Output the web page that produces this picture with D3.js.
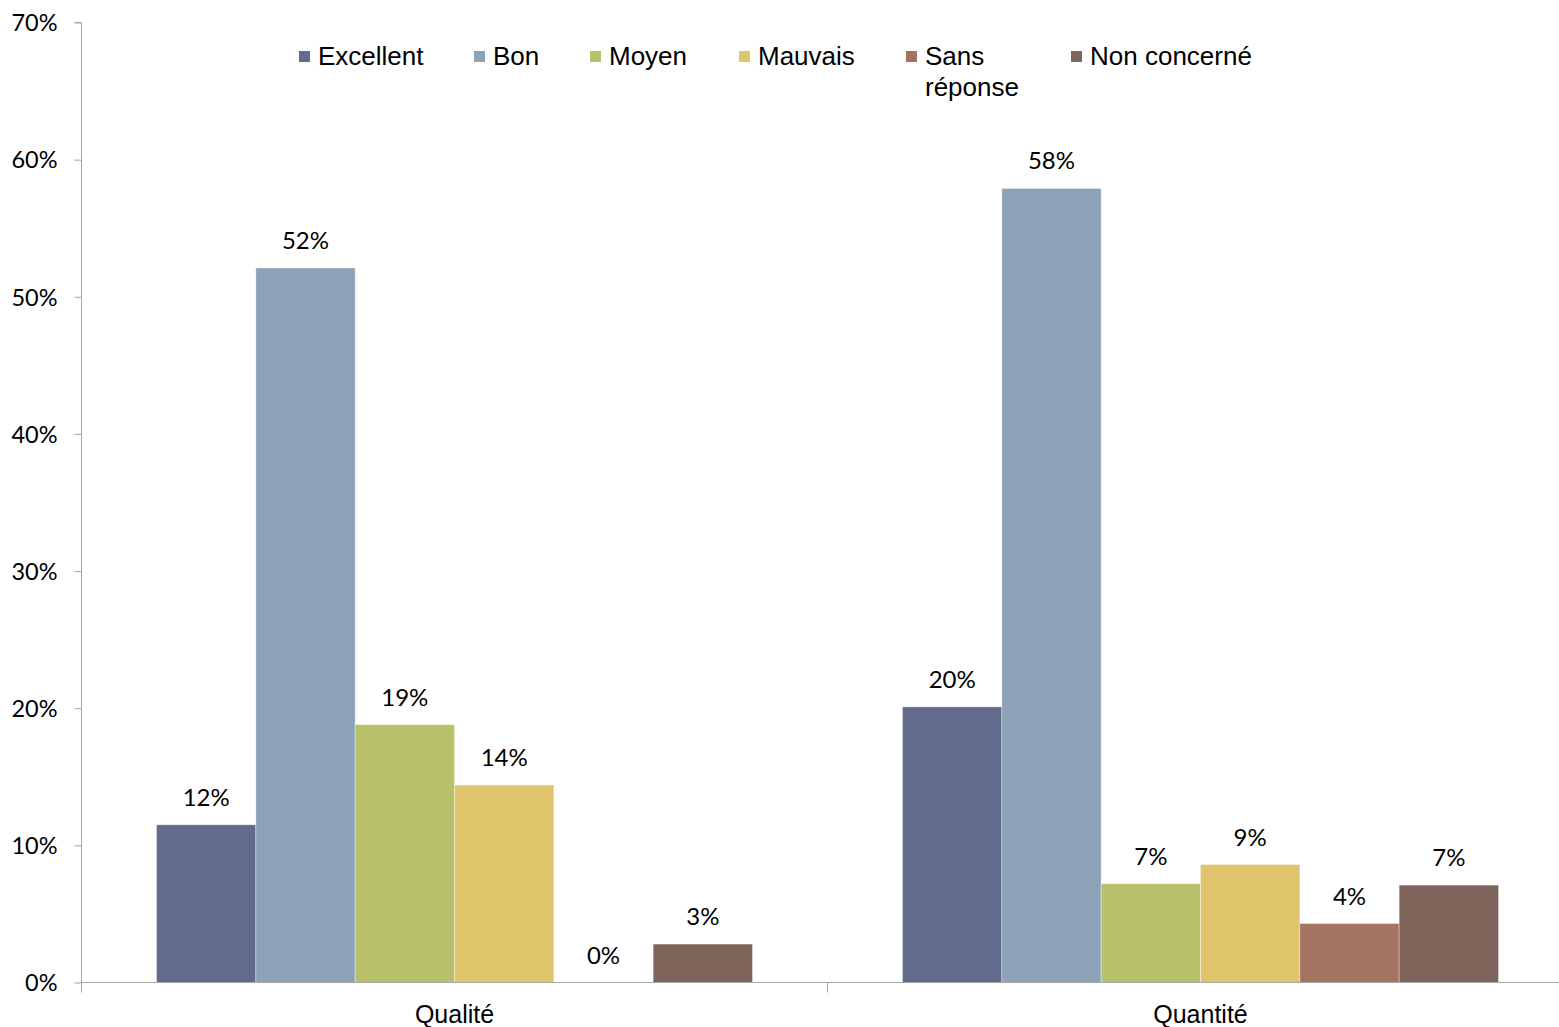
<!DOCTYPE html>
<html>
<head>
<meta charset="utf-8">
<script src="https://cdn.jsdelivr.net/npm/d3@7"></script>
<style>
  html, body { margin: 0; padding: 0; background: #fff; }
  svg { display: block; }
</style>
</head>
<body>
<svg id="chart" width="1559" height="1027"></svg>
<script>
// ---- data ----
const categories = ["Qualité", "Quantité"];
const seriesNames = ["Excellent", "Bon", "Moyen", "Mauvais", "Sans réponse", "Non concerné"];
const seriesColors = ["#636B8D", "#8CA3B7", "#B9C06A", "#DFC46C", "#A57362", "#7F645B"];
// values in percent, one array per category, ordered as seriesNames
const qualiteValues = [11.5, 52.1, 18.8, 14.4, 0, 2.8];
const quantiteValues = [20.1, 57.9, 7.2, 8.6, 4.3, 7.1];
const yTicks = [0, 10, 20, 30, 40, 50, 60, 70];

const valuesByCategory = { "Qualité": qualiteValues, "Quantité": quantiteValues };

// ---- layout ----
const svg = d3.select("#chart");
const axisX = 81.5;
const bandW = 746;
const yTop = 22.5, yBottom = 982.5;

const x0 = d3.scaleBand().domain(categories).range([axisX, axisX + bandW * categories.length]).padding(0);
const x1 = d3.scaleBand().domain(seriesNames).range([0, x0.bandwidth()]).paddingInner(0).paddingOuter(0.755);
const y = d3.scaleLinear().domain([0, 70]).range([yBottom, yTop]);
const color = d3.scaleOrdinal().domain(seriesNames).range(seriesColors);

const axisColor = "#A6A6A6";
const numFont = "Lato, 'Open Sans', sans-serif";
const textFont = "'Liberation Sans', Arial, sans-serif";

// ---- bars ----
const groups = svg.append("g").selectAll("g")
  .data(categories).join("g")
  .attr("transform", c => `translate(${x0(c)},0)`);

groups.selectAll("rect")
  .data(c => seriesNames.map((s, i) => ({ s, v: valuesByCategory[c][i] })))
  .join("rect")
  .attr("x", d => x1(d.s))
  .attr("width", x1.bandwidth())
  .attr("y", d => y(d.v))
  .attr("height", d => y(0) - y(d.v))
  .attr("fill", d => color(d.s))
  .attr("stroke", "rgba(255,255,255,0.35)")
  .attr("stroke-width", 1);

groups.selectAll("text")
  .data(c => seriesNames.map((s, i) => ({ s, v: valuesByCategory[c][i] })))
  .join("text")
  .attr("x", d => x1(d.s) + x1.bandwidth() / 2)
  .attr("y", d => y(d.v) - 19)
  .attr("text-anchor", "middle")
  .attr("font-family", numFont)
  .attr("font-size", 24)
  .attr("fill", "#000")
  .text(d => Math.round(d.v) + "%");

// ---- y axis ----
const yAxis = d3.axisLeft(y).tickValues(yTicks).tickSize(7).tickPadding(17).tickFormat(d => d + "%");
const gy = svg.append("g").attr("transform", `translate(${axisX},0)`).call(yAxis);
gy.select(".domain").attr("stroke", axisColor).attr("d", `M-7,${yTop}H0V${yBottom + 10}`);
gy.selectAll(".tick line").attr("stroke", axisColor);
gy.selectAll(".tick text")
  .attr("font-family", numFont).attr("font-size", 23.5).attr("fill", "#000")
  .attr("dy", "0.35em");

// ---- x axis ----
const gx = svg.append("g").attr("transform", `translate(0,${yBottom})`);
gx.append("line").attr("x1", axisX).attr("x2", 1559).attr("y1", 0).attr("y2", 0).attr("stroke", axisColor);
gx.selectAll("line.sep")
  .data(categories.slice(1)).join("line").attr("class", "sep")
  .attr("x1", c => x0(c)).attr("x2", c => x0(c))
  .attr("y1", 0).attr("y2", 10).attr("stroke", axisColor);
gx.selectAll("text")
  .data(categories).join("text")
  .attr("x", c => x0(c) + x0.bandwidth() / 2)
  .attr("y", 40)
  .attr("text-anchor", "middle")
  .attr("font-family", textFont)
  .attr("font-size", 25)
  .attr("fill", "#000")
  .text(c => c);

// ---- legend ----
const legendX = [299, 474, 590, 739, 906, 1071];
const legendLines = [["Excellent"], ["Bon"], ["Moyen"], ["Mauvais"], ["Sans", "réponse"], ["Non concerné"]];
const legend = svg.append("g");
const items = legend.selectAll("g").data(seriesNames).join("g")
  .attr("transform", (s, i) => `translate(${legendX[i]},0)`);
items.append("rect").attr("x", 0).attr("y", 51).attr("width", 11).attr("height", 11)
  .attr("fill", s => color(s));
items.append("text")
  .attr("font-family", textFont).attr("font-size", 26).attr("fill", "#000")
  .selectAll("tspan").data((s, i) => legendLines[i]).join("tspan")
  .attr("x", 19).attr("y", (t, j) => 65 + j * 31)
  .text(t => t);
</script>
</body>
</html>
